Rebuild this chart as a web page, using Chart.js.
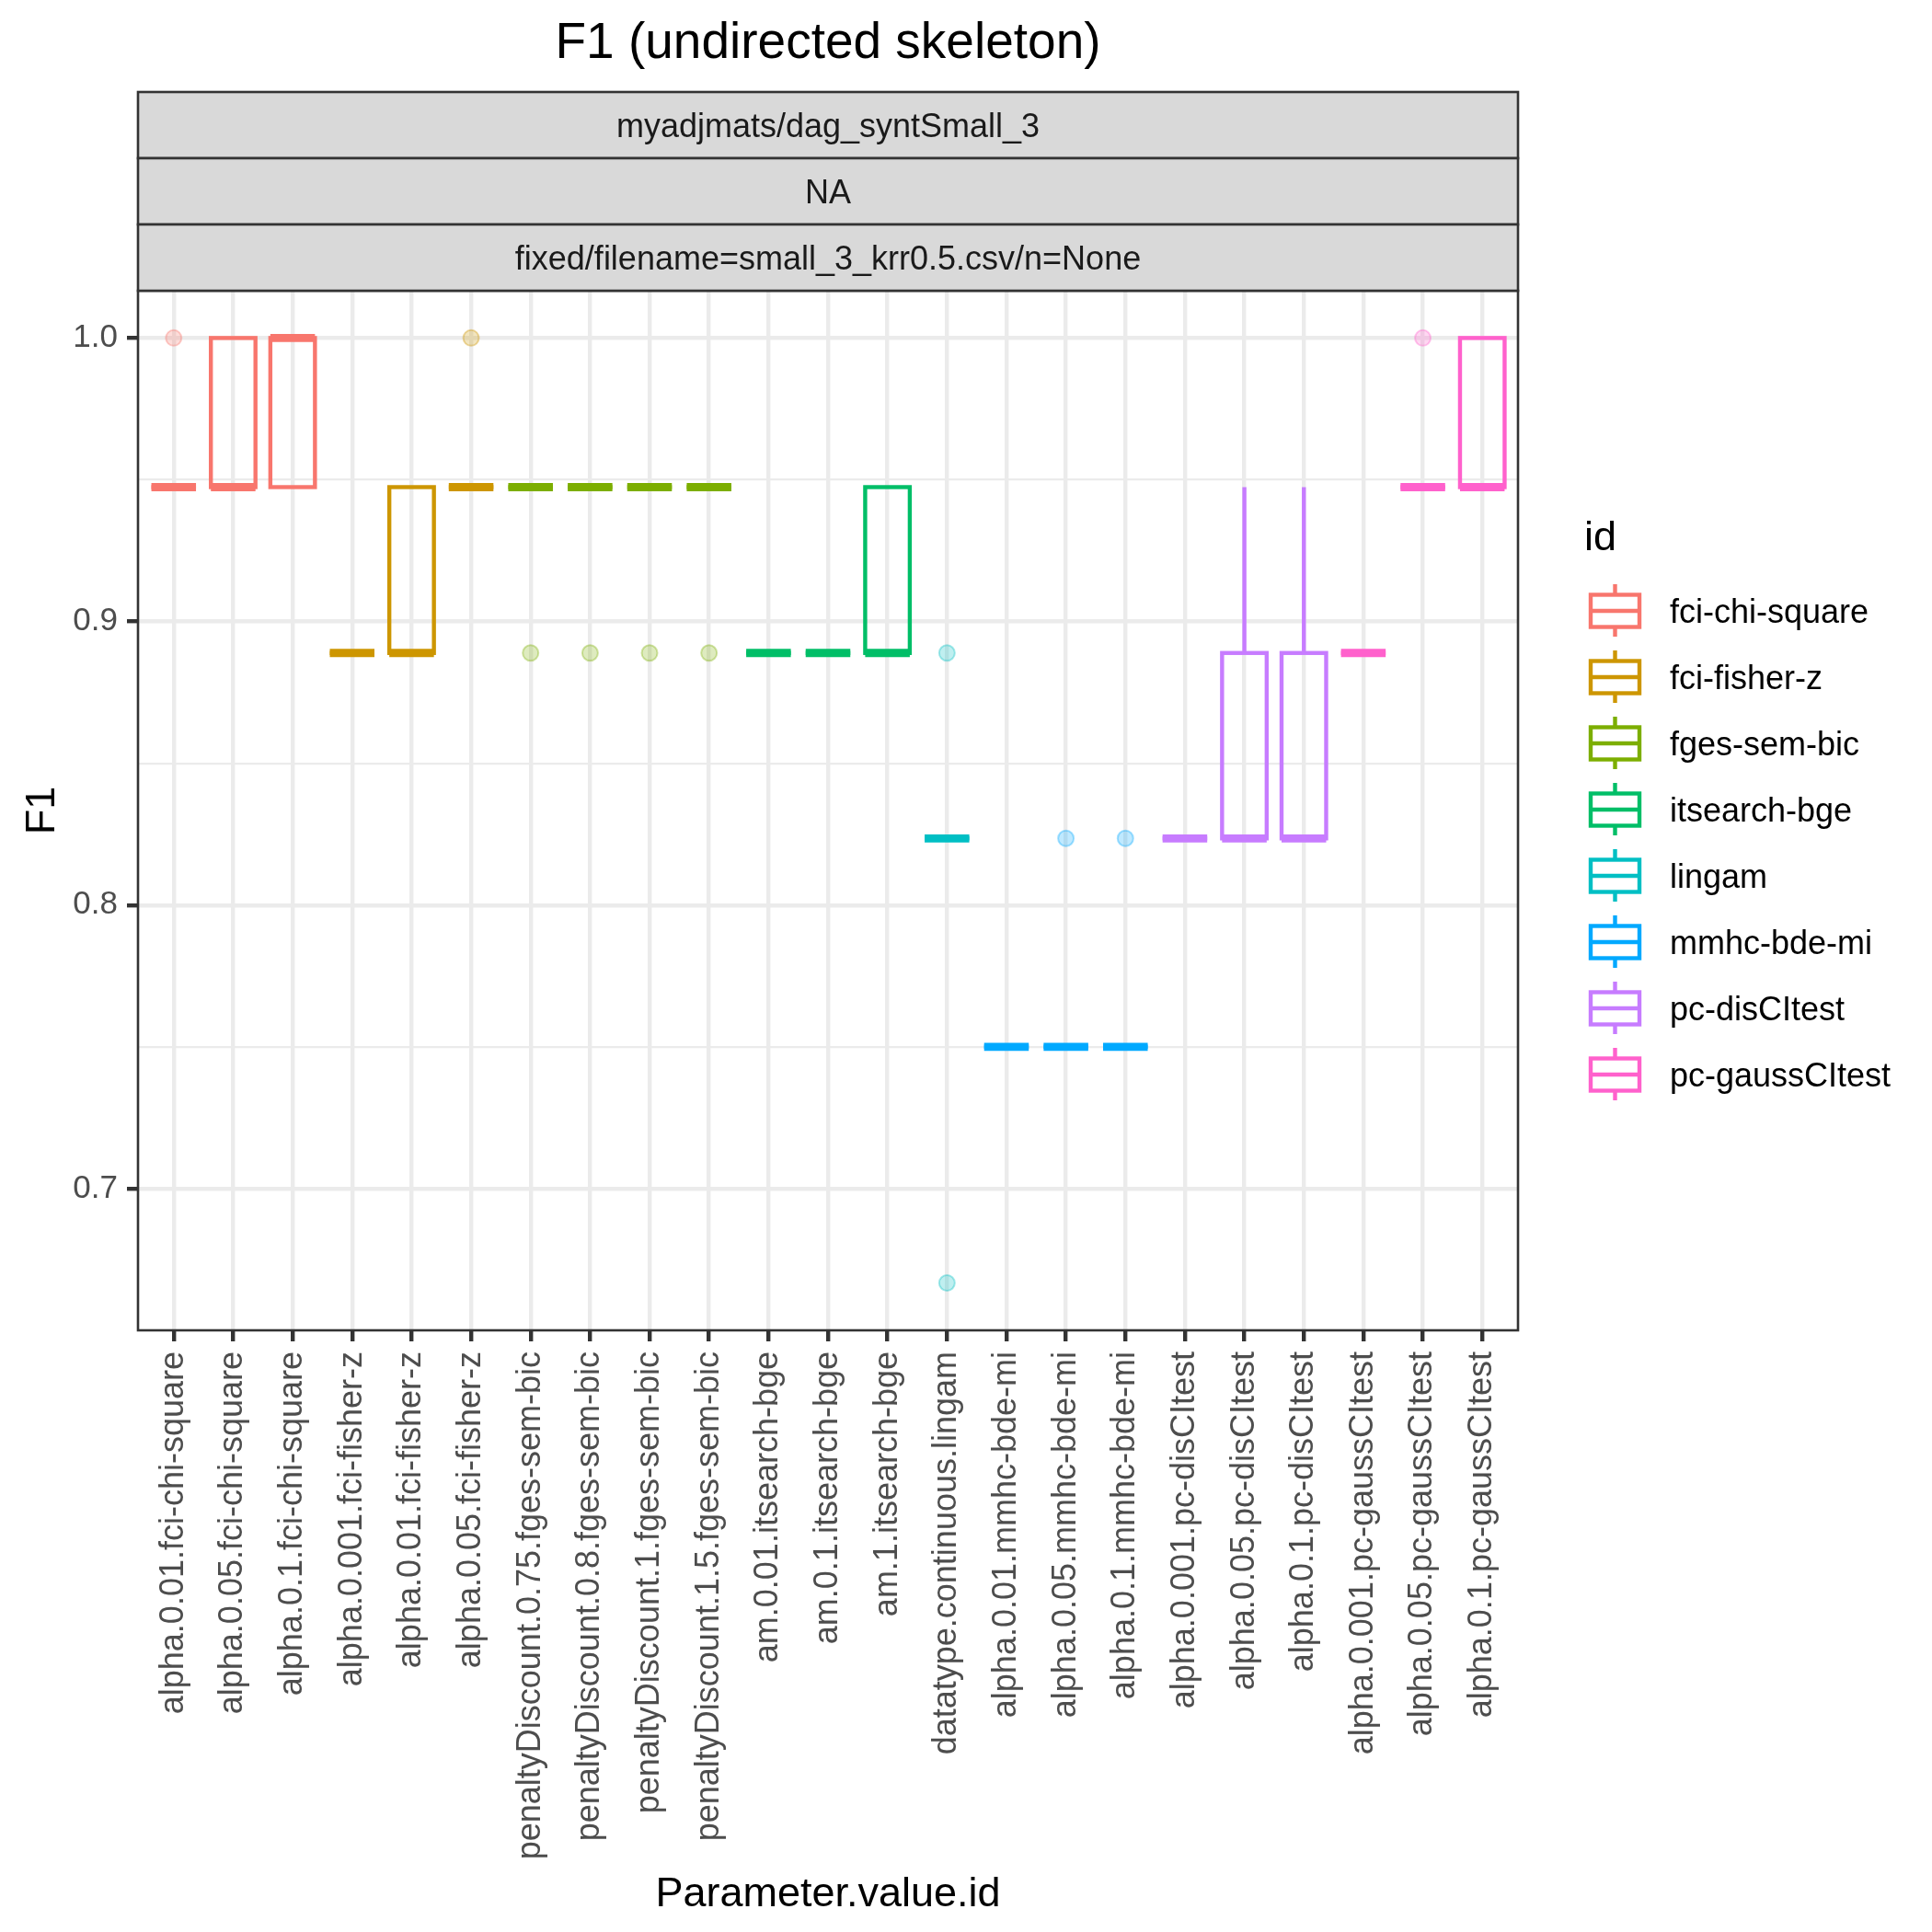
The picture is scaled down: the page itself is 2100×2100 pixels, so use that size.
<!DOCTYPE html>
<html><head><meta charset="utf-8">
<script src="https://cdn.jsdelivr.net/npm/chart.js@4.4.1/dist/chart.umd.min.js"></script>
<style>html,body{margin:0;padding:0;background:#fff}canvas{display:block}</style>
</head><body>
<canvas id="c" width="2100" height="2100" style="width:2100px;height:2100px"></canvas>
<script>
const categories = [
  'alpha.0.01.fci-chi-square','alpha.0.05.fci-chi-square','alpha.0.1.fci-chi-square',
  'alpha.0.001.fci-fisher-z','alpha.0.01.fci-fisher-z','alpha.0.05.fci-fisher-z',
  'penaltyDiscount.0.75.fges-sem-bic','penaltyDiscount.0.8.fges-sem-bic','penaltyDiscount.1.fges-sem-bic','penaltyDiscount.1.5.fges-sem-bic',
  'am.0.01.itsearch-bge','am.0.1.itsearch-bge','am.1.itsearch-bge',
  'datatype.continuous.lingam',
  'alpha.0.01.mmhc-bde-mi','alpha.0.05.mmhc-bde-mi','alpha.0.1.mmhc-bde-mi',
  'alpha.0.001.pc-disCItest','alpha.0.05.pc-disCItest','alpha.0.1.pc-disCItest',
  'alpha.0.001.pc-gaussCItest','alpha.0.05.pc-gaussCItest','alpha.0.1.pc-gaussCItest'
];
const groupNames = ['fci-chi-square','fci-fisher-z','fges-sem-bic','itsearch-bge','lingam','mmhc-bde-mi','pc-disCItest','pc-gaussCItest'];
const groupColors = ['#F8766D','#CD9600','#7CAE00','#00BE67','#00BFC4','#00A9FF','#C77CFF','#FF61CC'];
const groupOf = [0,0,0,1,1,1,2,2,2,2,3,3,3,4,5,5,5,6,6,6,7,7,7];
const whiskerLow = [0.9474,0.9474,0.9474,0.8889,0.8889,0.9474,0.9474,0.9474,0.9474,0.9474,0.8889,0.8889,0.8889,0.8235,0.75,0.75,0.75,0.8235,0.8235,0.8235,0.8889,0.9474,0.9474];
const q1 =         [0.9474,0.9474,0.9474,0.8889,0.8889,0.9474,0.9474,0.9474,0.9474,0.9474,0.8889,0.8889,0.8889,0.8235,0.75,0.75,0.75,0.8235,0.8235,0.8235,0.8889,0.9474,0.9474];
const median =     [0.9474,0.9474,1.0,0.8889,0.8889,0.9474,0.9474,0.9474,0.9474,0.9474,0.8889,0.8889,0.8889,0.8235,0.75,0.75,0.75,0.8235,0.8235,0.8235,0.8889,0.9474,0.9474];
const q3 =         [0.9474,1.0,1.0,0.8889,0.9474,0.9474,0.9474,0.9474,0.9474,0.9474,0.8889,0.8889,0.9474,0.8235,0.75,0.75,0.75,0.8235,0.8889,0.8889,0.8889,0.9474,1.0];
const whiskerHigh =[0.9474,1.0,1.0,0.8889,0.9474,0.9474,0.9474,0.9474,0.9474,0.9474,0.8889,0.8889,0.9474,0.8235,0.75,0.75,0.75,0.8235,0.9474,0.9474,0.8889,0.9474,1.0];
const outlierCat = [0,5,6,7,8,9,13,13,15,16,21];
const outlierVal = [1.0,1.0,0.8889,0.8889,0.8889,0.8889,0.8889,0.6667,0.8235,0.8235,1.0];
const yTicks = [0.7,0.75,0.8,0.85,0.9,0.95,1.0];
const stripLabels = ['myadjmats/dag_syntSmall_3','NA','fixed/filename=small_3_krr0.5.csv/n=None'];
const titleText = 'F1 (undirected skeleton)';
const xTitle = 'Parameter.value.id';
const yTitle = 'F1';
const legendTitle = 'id';

const F = '"Liberation Sans", Arial, Helvetica, sans-serif';
Chart.defaults.font.family = F;
function rgba(hex, a){ const n = parseInt(hex.slice(1),16); return `rgba(${(n>>16)&255},${(n>>8)&255},${n&255},${a})`; }
const isMajor = v => Math.abs(Math.round(v*10) - v*10) < 1e-6;
const LW = 4.4;

const boxPlugin = {
  id: 'boxes',
  beforeDatasetsDraw(chart){
    const {ctx, scales:{x, y}} = chart;
    const halfW = (x.getPixelForValue(1) - x.getPixelForValue(0)) * 0.75 / 2;
    ctx.save();
    ctx.lineCap = 'butt'; ctx.lineJoin = 'miter';
    categories.forEach((c, i) => {
      const col = groupColors[groupOf[i]];
      const cx = x.getPixelForValue(i);
      ctx.strokeStyle = col;
      ctx.lineWidth = LW;
      ctx.beginPath();
      ctx.moveTo(cx, y.getPixelForValue(q3[i])); ctx.lineTo(cx, y.getPixelForValue(whiskerHigh[i]));
      ctx.moveTo(cx, y.getPixelForValue(q1[i])); ctx.lineTo(cx, y.getPixelForValue(whiskerLow[i]));
      ctx.stroke();
      const yt = y.getPixelForValue(q3[i]), yb = y.getPixelForValue(q1[i]);
      ctx.strokeRect(cx - halfW, yt, 2*halfW, yb - yt);
      ctx.lineWidth = 2 * LW;
      const ym = y.getPixelForValue(median[i]);
      ctx.beginPath(); ctx.moveTo(cx - halfW, ym); ctx.lineTo(cx + halfW, ym); ctx.stroke();
    });
    ctx.restore();
  }
};

const decorPlugin = {
  id: 'decor',
  afterDraw(chart){
    const {ctx, chartArea: a} = chart;
    ctx.save();
    ctx.strokeStyle = '#333333'; ctx.lineWidth = 2.6;
    ctx.strokeRect(a.left, a.top, a.right - a.left, a.bottom - a.top);
    const sh = 72;
    const cxp = (a.left + a.right) / 2;
    stripLabels.forEach((t, k) => {
      const top = a.top - sh * (stripLabels.length - k);
      ctx.fillStyle = '#D9D9D9';
      ctx.fillRect(a.left, top, a.right - a.left, sh);
      ctx.strokeStyle = '#333333'; ctx.lineWidth = 2.6;
      ctx.strokeRect(a.left, top, a.right - a.left, sh);
      ctx.fillStyle = '#1A1A1A';
      ctx.font = '36px ' + F; ctx.textAlign = 'center'; ctx.textBaseline = 'alphabetic';
      ctx.fillText(t, cxp, top + sh/2 + 13);
    });
    ctx.fillStyle = '#000000';
    ctx.font = '55px ' + F; ctx.textAlign = 'center'; ctx.textBaseline = 'alphabetic';
    ctx.fillText(titleText, cxp, 63);
    const lx = a.right + 72;
    ctx.font = '45px ' + F; ctx.textAlign = 'left';
    ctx.fillText(legendTitle, lx, 598);
    const gx = a.right + 105.5;
    groupNames.forEach((g, k) => {
      const cy = 664 + 72 * k;
      const col = groupColors[k];
      ctx.strokeStyle = col; ctx.lineWidth = LW;
      ctx.strokeRect(gx - 26.5, cy - 17.5, 53, 35);
      ctx.beginPath();
      ctx.moveTo(gx - 26.5, cy); ctx.lineTo(gx + 26.5, cy);
      ctx.moveTo(gx, cy - 17.5); ctx.lineTo(gx, cy - 29);
      ctx.moveTo(gx, cy + 17.5); ctx.lineTo(gx, cy + 28);
      ctx.stroke();
      ctx.fillStyle = '#000000';
      ctx.font = '36px ' + F;
      ctx.fillText(g, a.right + 165, cy + 13);
    });
    ctx.restore();
  }
};

const outlierData = outlierCat.map((c, k) => ({x: c, y: outlierVal[k]}));

new Chart(document.getElementById('c'), {
  type: 'scatter',
  data: {
    datasets: [{
      label: 'outliers',
      data: outlierData,
      pointRadius: 8.5,
      pointBorderWidth: 2,
      pointBackgroundColor: outlierCat.map(c => rgba(groupColors[groupOf[c]], 0.25)),
      pointBorderColor: outlierCat.map(c => rgba(groupColors[groupOf[c]], 0.35)),
      showLine: false
    }]
  },
  options: {
    responsive: false,
    devicePixelRatio: 1,
    animation: false,
    layout: { padding: { left: 0, top: 316, right: 450, bottom: 0 } },
    plugins: { legend: { display: false }, title: { display: false }, tooltip: { enabled: false } },
    scales: {
      x: {
        type: 'linear', min: -0.6, max: 22.6, bounds: 'data',
        afterBuildTicks: s => { s.ticks = categories.map((c, i) => ({value: i})); },
        afterFit: s => { s.height = 654; },
        ticks: {
          autoSkip: false, includeBounds: false, maxRotation: 90, minRotation: 90,
          padding: 11, color: '#4D4D4D', font: { size: 36 },
          callback: v => categories[v] !== undefined ? categories[v] : ''
        },
        grid: { color: '#EBEBEB', lineWidth: LW, tickLength: 12, tickColor: '#333333', tickWidth: LW },
        border: { display: false },
        title: { display: true, text: xTitle, color: '#000000', font: { size: 45 }, padding: { top: 0, bottom: 13 } }
      },
      y: {
        type: 'linear', min: 0.65, max: 1.01667, bounds: 'data',
        afterBuildTicks: s => { s.ticks = yTicks.map(v => ({value: v})); },
        afterFit: s => { s.width = 150; },
        ticks: {
          padding: 10, color: '#4D4D4D', font: { size: 35 },
          callback: v => isMajor(v) ? v.toFixed(1) : ''
        },
        grid: {
          color: '#EBEBEB',
          lineWidth: ctx => (ctx.tick && isMajor(ctx.tick.value)) ? LW : LW / 2,
          tickLength: 12,
          tickColor: ctx => (ctx.tick && isMajor(ctx.tick.value)) ? '#333333' : 'rgba(0,0,0,0)',
          tickWidth: LW
        },
        border: { display: false },
        title: { display: true, text: yTitle, color: '#000000', font: { size: 45 }, padding: { top: 20, bottom: 0 } }
      }
    }
  },
  plugins: [boxPlugin, decorPlugin]
});
</script>
</body></html>
